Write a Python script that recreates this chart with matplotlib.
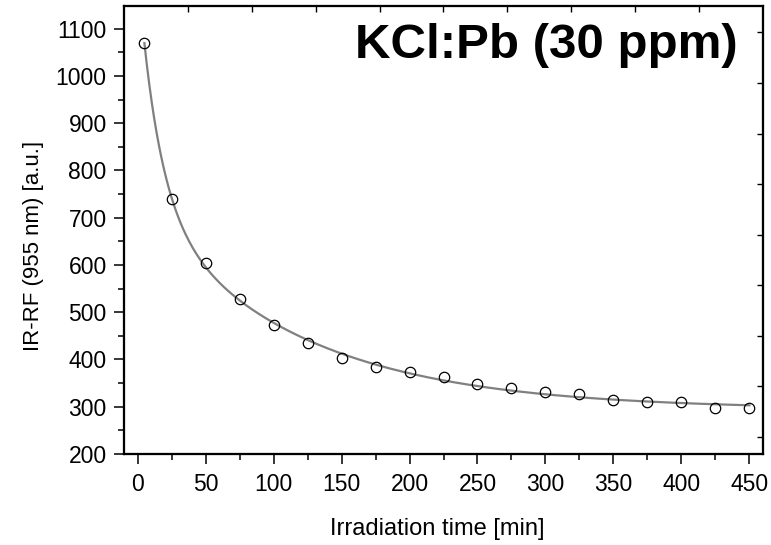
import numpy as np
import matplotlib
matplotlib.use("Agg")
import matplotlib.pyplot as plt
from matplotlib.ticker import MultipleLocator

plt.rcParams['font.family'] = ['Liberation Sans', 'DejaVu Sans']

# Data
time_min = [5, 25, 50, 75, 100, 125, 150, 175, 200, 225, 250, 275, 300,
            325, 350, 375, 400, 425, 450]
ir_rf = [1070, 739, 605, 527, 474, 434, 404, 385, 373, 362, 349, 340, 331,
         326, 315, 309, 309, 297, 298]

title_text = "KCl:Pb (30 ppm)"
x_label = "Irradiation time [min]"
y_label = "IR-RF (955 nm) [a.u.]"

x = np.asarray(time_min, float)
y = np.asarray(ir_rf, float)

# Second-order exponential decay fit of the data (least squares, grid over time constants)
best = None
for t1 in np.geomspace(2, 150, 90):
    for t2 in np.geomspace(20, 3000, 90):
        if t2 <= t1:
            continue
        A = np.column_stack([np.ones_like(x), np.exp(-x / t1), np.exp(-x / t2)])
        coef, *_ = np.linalg.lstsq(A, y, rcond=None)
        r = np.sum((A @ coef - y) ** 2)
        if best is None or r < best[0]:
            best = (r, t1, t2, coef)
_, t1, t2, coef = best
xf = np.linspace(x.min(), x.max(), 500)
yf = coef[0] + coef[1] * np.exp(-xf / t1) + coef[2] * np.exp(-xf / t2)

fig = plt.figure(figsize=(7.71, 5.45), dpi=100)
ax = fig.add_axes([124 / 771, 1 - 454 / 545, 639 / 771, 448 / 545])

ax.plot(xf, yf, color='#808080', lw=1.6, zorder=2)
ax.plot(x, y, linestyle='none', marker='o', markersize=7.5, mfc='none',
        mec='black', mew=0.9, zorder=3)

ax.set_xlim(-10, 460)
ax.set_ylim(200, 1148)
ax.xaxis.set_major_locator(MultipleLocator(50))
ax.xaxis.set_minor_locator(MultipleLocator(25))
ax.yaxis.set_major_locator(MultipleLocator(100))
ax.yaxis.set_minor_locator(MultipleLocator(50))

for s in ax.spines.values():
    s.set_linewidth(1.5)

ax.tick_params(which='major', direction='out', length=7.5, width=1.1,
               labelsize=16.5, pad=6, top=False, right=False)
ax.tick_params(axis='y', which='major', pad=5)
ax.tick_params(which='minor', direction='out', length=4.5, width=1.1,
               top=False, right=False)

# Unlabelled inward ticks on top and right frames
axt = ax.twiny()
axt.set_xlim(0, 1)
axt.set_xticks(np.arange(1, 10) / 10)
axt.tick_params(axis='x', direction='in', length=4, width=1, labeltop=False)
axr = ax.twinx()
axr.set_ylim(0, 1)
axr.set_yticks(0.038 + 0.1129 * np.arange(9))
axr.tick_params(axis='y', direction='in', length=4, width=1, labelright=False)
for a in (axt, axr):
    for s in a.spines.values():
        s.set_linewidth(1.5)
axt.yaxis.set_visible(False)
axr.xaxis.set_visible(False)

ax.set_xlabel(x_label, fontsize=17)
ax.set_ylabel(y_label, fontsize=16)
ax.xaxis.set_label_coords(0.49, -0.143)
ax.yaxis.label.set_va('center')
ax.yaxis.set_label_coords(-0.141, 0.464)

ax.text(0.961, 0.962, title_text, transform=ax.transAxes, ha='right',
        va='top', fontsize=35.5, fontweight='bold')

fig.savefig('out.png', dpi=100)
